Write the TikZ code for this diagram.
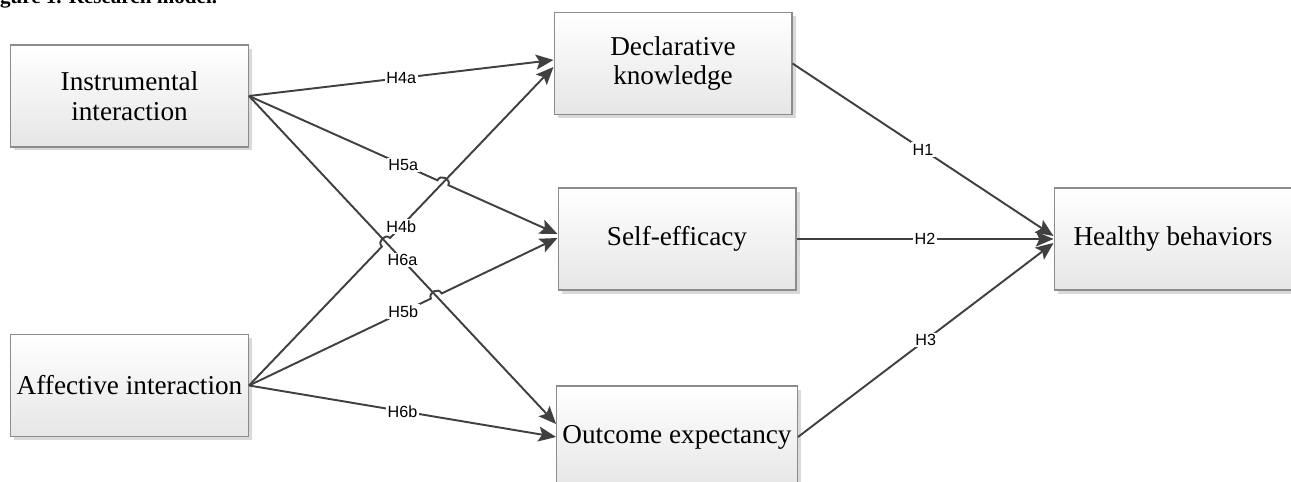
\documentclass[tikz,border=0pt]{standalone}
\usepackage{fontspec}
\setmainfont{Liberation Serif}
\newfontfamily\hypsans{Liberation Sans}
\definecolor{linegray}{RGB}{64, 64, 64}
\definecolor{boxedge}{RGB}{140, 140, 140}
\definecolor{boxshade}{RGB}{230, 230, 230}
\usetikzlibrary{arrows.meta, calc, shadows}

\tikzset{
  construct/.style={draw=boxedge, line width=0.6pt, top color=white, bottom color=boxshade,
    minimum width=4.76cm, minimum height=2.04cm, align=center,
    font=\fontsize{15.5}{17}\selectfont,
    drop shadow={shadow xshift=2pt, shadow yshift=-2pt, fill=black!15, opacity=1}},
  link/.style={draw=linegray, line width=1.1pt, -{Stealth[length=10pt, width=8.5pt, inset=2pt]}},
  hyp/.style={font=\hypsans\fontsize{9.2}{10}\selectfont, fill=white, inner sep=1pt},
}

\begin{document}
\begin{tikzpicture}[x=0.02cm, y=-0.02cm]
  \useasboundingbox (0,0) rectangle (1291,482);
  \clip (0,0) rectangle (1291,482);

  % caption, cut off at the top
  \node[font=\bfseries\fontsize{12}{14}\selectfont, anchor=base west, inner sep=0pt] (caption) at (-19,4) {Figure 1. Research model.};

  % constructs
  \node[construct] (ins) at (129.5,96) {Instrumental\\interaction};
  \node[construct] (aff) at (129.5,385.5) {Affective interaction};
  \node[construct] (decl) at (673,63.5) {Declarative\\knowledge};
  \node[construct] (selfeff) at (677,239) {Self-efficacy};
  \node[construct] (outc) at (677,437) {Outcome expectancy};
  \node[construct] (health) at (1173,239) {Healthy behaviors};

  % arrow ends
  \coordinate (d1) at ($(decl.west)+(0,-3.5)$);
  \coordinate (d2) at ($(decl.west)+(0,3.5)$);
  \coordinate (s1) at ($(selfeff.west)+(0,-5)$);
  \coordinate (s2) at ($(selfeff.west)+(0,-1)$);
  \coordinate (o1) at ($(outc.west)+(0,-13)$);
  \coordinate (h1) at ($(health.west)+(0,-3)$);
  \coordinate (h3) at ($(health.west)+(0,4)$);

  % line jumps
  \coordinate (x1) at (intersection of ins.east--s1 and aff.east--d2);
  \coordinate (x2) at (intersection of aff.east--d2 and ins.east--o1);
  \coordinate (x3) at (intersection of aff.east--s2 and ins.east--o1);

  % interaction -> mediators
  \draw[link] (ins.east) -- (d1);
  \draw[link] (ins.east) -- (o1);
  \draw[link] (ins.east) -- ($(x1)!3.4pt!(ins.east)$) to[bend left=90, looseness=1.5] ($(x1)!3.4pt!(s1)$) -- (s1);
  \draw[link] (aff.east) -- ($(x2)!3.4pt!(aff.east)$) to[bend left=90, looseness=1.5] ($(x2)!3.4pt!(d2)$) -- (d2);
  \draw[link] (aff.east) -- ($(x3)!3.4pt!(aff.east)$) to[bend left=90, looseness=1.5] ($(x3)!3.4pt!(s2)$) -- (s2);
  \draw[link] (aff.east) -- (outc.west);

  % mediators -> outcome
  \draw[link] (decl.east) -- (h1);
  \draw[link] (selfeff.east) -- (health.west);
  \draw[link] (outc.east) -- (h3);

  % hypothesis labels
  \path (ins.east) -- node[hyp] {H4a} (d1);
  \path (ins.east) -- node[hyp] {H5a} (s1);
  \path (ins.east) -- node[hyp] {H6a} (o1);
  \path (aff.east) -- node[hyp] {H4b} (d2);
  \path (aff.east) -- node[hyp] {H5b} (s2);
  \path (aff.east) -- node[hyp] {H6b} (outc.west);
  \path (decl.east) -- node[hyp] {H1} (h1);
  \path (selfeff.east) -- node[hyp] {H2} (health.west);
  \path (outc.east) -- node[hyp] {H3} (h3);
\end{tikzpicture}
\end{document}
